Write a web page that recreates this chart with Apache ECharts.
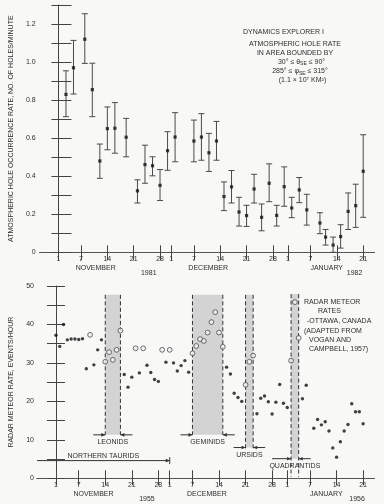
<!DOCTYPE html>
<html><head><meta charset="utf-8">
<script src="https://cdn.jsdelivr.net/npm/echarts@6/dist/echarts.min.js"></script>
<style>html,body{margin:0;padding:0;background:#f8f8f7}#c{width:384px;height:504px}</style>
</head><body><div id="c"></div>
<script>
// ---------- data (days counted from 1 November) ----------
const dayTicks = [0, 6, 13, 20, 27, 30, 36, 43, 50, 57, 61, 67, 74, 81];
const dayTickLabels = ['1','7','14','21','28','1','7','14','21','28','1','7','14','21'];
const monthPos = [9.9, 39.8, 71.3];
const monthNames = ['NOVEMBER', 'DECEMBER', 'JANUARY'];
const yearPosTop = [24, 78.7];
const yearLabelsTop = ['1981', '1982'];
const yearPosBottom = [24, 79.4];
const yearLabelsBottom = ['1955', '1956'];

// Dynamics Explorer I atmospheric hole rate (holes/minute)
const holeDays = [2, 4, 7, 9, 11, 13, 15, 18, 21, 23, 25, 27, 29, 31, 36, 38, 40, 42, 44, 46, 48, 50, 52, 54, 56, 58, 60, 62, 64, 66, 69.5, 71, 73, 75, 77, 79, 81];
const holeRate = [0.83, 0.97, 1.12, 0.855, 0.48, 0.65, 0.652, 0.605, 0.323, 0.461, 0.455, 0.352, 0.534, 0.606, 0.585, 0.606, 0.523, 0.585, 0.293, 0.344, 0.212, 0.193, 0.333, 0.184, 0.363, 0.194, 0.345, 0.233, 0.328, 0.223, 0.154, 0.080, 0.038, 0.083, 0.215, 0.245, 0.426];
const holeLow  = [0.713, 0.832, 0.993, 0.713, 0.389, 0.539, 0.521, 0.502, 0.259, 0.363, 0.402, 0.272, 0.431, 0.476, 0.476, 0.484, 0.425, 0.484, 0.219, 0.259, 0.138, 0.136, 0.259, 0.113, 0.266, 0.138, 0.242, 0.182, 0.261, 0.143, 0.098, 0.038, 0.0, 0.022, 0.120, 0.131, 0.184];
const holeHigh = [0.954, 1.114, 1.254, 0.994, 0.569, 0.764, 0.787, 0.704, 0.381, 0.563, 0.502, 0.435, 0.634, 0.734, 0.695, 0.729, 0.625, 0.688, 0.370, 0.430, 0.289, 0.247, 0.410, 0.254, 0.465, 0.247, 0.449, 0.289, 0.393, 0.305, 0.208, 0.120, 0.080, 0.145, 0.312, 0.358, 0.618];

// Radar meteor rates, Ottawa 1955-56 (events/hour)
const meteorDays = [0, 1, 2, 3, 4, 5, 6, 7, 8, 10, 11, 12, 18, 19, 20, 22, 24, 25, 26, 27, 29, 31, 32, 33, 34, 35, 45, 46, 47, 48, 49, 53, 54, 55, 56, 57, 58, 59, 60, 61, 65, 66, 68, 69, 70, 71, 72, 73, 74, 75, 76, 77, 78, 79, 80, 81];
const meteorRate = [37.2, 34.3, 40.0, 36.0, 36.2, 36.2, 36.1, 36.3, 28.5, 29.5, 33.4, 36.0, 27.0, 23.7, 26.3, 27.4, 29.4, 27.5, 25.7, 25.2, 30.2, 30.0, 27.9, 29.3, 30.6, 27.6, 28.9, 27.1, 22.1, 21.0, 20.0, 16.8, 20.8, 21.4, 19.9, 16.7, 19.8, 24.4, 19.5, 18.4, 20.7, 24.2, 13.0, 15.3, 13.9, 14.7, 12.3, 7.9, 5.5, 9.5, 12.3, 14.0, 19.4, 17.3, 17.3, 14.2];
const showerDays = [9, 13, 14, 15, 16, 17, 21, 23, 28, 30, 36, 37, 38, 39, 40, 41, 42, 43, 44, 50, 51, 52, 62, 63, 64];
const showerRate = [37.3, 30.3, 32.8, 30.8, 33.4, 38.4, 33.8, 33.8, 33.4, 33.4, 32.5, 34.4, 36.2, 35.7, 37.9, 40.6, 43.2, 37.9, 34.2, 24.3, 30.3, 31.9, 30.6, 45.8, 36.5];

// meteor showers
const showerNames = ['LEONIDS', 'GEMINIDS', 'URSIDS', 'QUADRANTIDS'];
const showerStart = [13, 36, 50, 62];
const showerEnd   = [17, 44, 52, 64];
const showerFloor = [11.3, 11.3, 8.0, 5.1];
const showerTop   = [47.7, 47.7, 47.7, 47.9];
const showerDashEnd = [11.3, 11.3, 7.5, 0.4];
const tauridName = 'NORTHERN TAURIDS';
const tauridStart = -5, tauridEnd = 30, tauridLevel = 4.6;

// ---------- chart ----------
const FONT = '"Liberation Sans", Arial, sans-serif';
const INK = '#2e2e2e';
const chart = echarts.init(document.getElementById('c'), null, {renderer: 'canvas'});

function nearestLabel(v, pos, labels) {
  let bi = 0, bd = Infinity;
  pos.forEach((p, i) => { const d = Math.abs(p - v); if (d < bd) { bd = d; bi = i; } });
  return labels[bi];
}
function xAxesFor(g, yearPos, yearLabels, tickLen, topTickLen) {
  const base = {type: 'value', gridIndex: g, min: -5, max: 84, splitLine: {show: false}};
  return [
    Object.assign({}, base, {
      position: 'bottom',
      axisLine: {lineStyle: {color: '#444', width: 1}},
      axisTick: {customValues: dayTicks, inside: true, length: tickLen, lineStyle: {color: '#444'}},
      axisLabel: {customValues: dayTicks, formatter: v => nearestLabel(v, dayTicks, dayTickLabels),
        margin: 3, fontSize: 7, color: INK, fontFamily: FONT}
    }),
    Object.assign({}, base, {
      position: 'top',
      axisLine: {lineStyle: {color: '#555', width: 1}},
      axisTick: {customValues: dayTicks, inside: true, length: topTickLen, lineStyle: {color: '#444'}},
      axisLabel: {show: false}
    }),
    Object.assign({}, base, {
      position: 'bottom',
      axisLine: {show: false}, axisTick: {show: false},
      axisLabel: {customValues: monthPos, formatter: v => nearestLabel(v, monthPos, monthNames),
        margin: 12.5, fontSize: 7, color: INK, fontFamily: FONT}
    }),
    Object.assign({}, base, {
      position: 'bottom',
      axisLine: {show: false}, axisTick: {show: false},
      axisLabel: {customValues: yearPos, formatter: v => nearestLabel(v, yearPos, yearLabels),
        margin: 17, fontSize: 7, color: INK, fontFamily: FONT}
    })
  ];
}

const errorBarSeries = {
  type: 'custom', xAxisIndex: 0, yAxisIndex: 0, clip: false,
  data: holeDays.map((d, i) => [d, holeLow[i], holeHigh[i]]),
  renderItem(params, api) {
    const hi = api.coord([api.value(0), api.value(2)]);
    const lo = api.coord([api.value(0), api.value(1)]);
    const w = 3, st = {stroke: '#4a4a4a', lineWidth: 1};
    return {type: 'group', children: [
      {type: 'line', shape: {x1: hi[0], y1: hi[1], x2: lo[0], y2: lo[1]}, style: st},
      {type: 'line', shape: {x1: hi[0] - w, y1: hi[1], x2: hi[0] + w, y2: hi[1]}, style: st},
      {type: 'line', shape: {x1: lo[0] - w, y1: lo[1], x2: lo[0] + w, y2: lo[1]}, style: st}
    ]};
  }
};

const bandSeries = {
  type: 'custom', xAxisIndex: 4, yAxisIndex: 2, clip: false, z: 1,
  data: showerNames.map((n, i) => [showerStart[i], showerEnd[i], showerFloor[i], showerTop[i], showerDashEnd[i]]),
  renderItem(params, api) {
    const i = params.dataIndex;
    const a = api.coord([api.value(0), api.value(3)]);
    const b = api.coord([api.value(1), api.value(2)]);
    const c = api.coord([api.value(0), api.value(4)]);
    const x0 = a[0], x1 = b[0], yT = a[1], yF = b[1], yD = c[1];
    const L = i === 3 ? 19 : 12;
    const dash = {stroke: '#333', lineWidth: 1, lineDash: [4, 2.5]};
    const solid = {stroke: '#333', lineWidth: 1};
    return {type: 'group', children: [
      {type: 'rect', shape: {x: x0, y: yT, width: x1 - x0, height: yF - yT}, style: {fill: '#d3d3d3'}},
      {type: 'line', shape: {x1: x0, y1: yT, x2: x0, y2: yD}, style: dash},
      {type: 'line', shape: {x1: x1, y1: yT, x2: x1, y2: yD}, style: dash},
      {type: 'line', shape: {x1: x0 - L, y1: yF, x2: x0, y2: yF}, style: solid},
      {type: 'polygon', shape: {points: [[x0, yF], [x0 - 4, yF - 1.8], [x0 - 4, yF + 1.8]]}, style: {fill: '#333'}},
      {type: 'line', shape: {x1: x1, y1: yF, x2: x1 + 12, y2: yF}, style: solid},
      {type: 'polygon', shape: {points: [[x1, yF], [x1 + 4, yF - 1.8], [x1 + 4, yF + 1.8]]}, style: {fill: '#333'}},
      {type: 'text', style: {text: showerNames[i], x: (x0 + x1) / 2, y: yF + 4, align: 'center', verticalAlign: 'top',
        fill: INK, font: '7px ' + FONT}}
    ]};
  }
};

const tauridSeries = {
  type: 'custom', xAxisIndex: 4, yAxisIndex: 2, clip: false, z: 2,
  data: [[tauridStart, tauridEnd, tauridLevel]],
  renderItem(params, api) {
    const a = api.coord([api.value(0), api.value(2)]);
    const b = api.coord([api.value(1), api.value(2)]);
    const st = {stroke: '#333', lineWidth: 1};
    return {type: 'group', children: [
      {type: 'line', shape: {x1: a[0], y1: a[1], x2: b[0], y2: b[1]}, style: st},
      {type: 'polygon', shape: {points: [[b[0], b[1]], [b[0] - 4, b[1] - 1.8], [b[0] - 4, b[1] + 1.8]]}, style: {fill: '#333'}},
      {type: 'line', shape: {x1: b[0], y1: b[1] - 3.5, x2: b[0], y2: b[1] + 3.5}, style: st},
      {type: 'text', style: {text: tauridName, x: (a[0] + b[0]) / 2, y: a[1] - 1.5, align: 'center', verticalAlign: 'bottom',
        fill: INK, font: '7px ' + FONT}}
    ]};
  }
};

function txt(x, y, text, align, rich) {
  const s = {text, x, y, align: align || 'center', verticalAlign: 'middle', fill: INK, font: '7px ' + FONT};
  if (rich) s.rich = rich;
  return {type: 'text', silent: true, style: s};
}
const subRich = {
  n: {fontSize: 7, fontFamily: FONT, color: INK, lineHeight: 9, verticalAlign: 'middle'},
  s: {fontSize: 5, fontFamily: FONT, color: INK, lineHeight: 9, verticalAlign: 'bottom'}
};

const option = {
  animation: false,
  backgroundColor: '#f8f8f7',
  grid: [
    {left: 31.5, right: 9.5, top: 5, height: 247.3},
    {left: 31.5, right: 9.5, top: 286, height: 192.3}
  ],
  xAxis: [].concat(
    xAxesFor(0, yearPosTop, yearLabelsTop, 7, 8),
    xAxesFor(1, yearPosBottom, yearLabelsBottom, 8, 7)
  ),
  yAxis: [
    {type: 'value', gridIndex: 0, min: 0, max: 1.3, interval: 0.1, position: 'left',
     axisLine: {show: true, lineStyle: {color: '#444'}},
     axisTick: {inside: true, length: 13, lineStyle: {color: '#444'}},
     axisLabel: {margin: 4, fontSize: 7, color: INK, fontFamily: FONT,
       formatter: v => { const k = Math.round(v * 10); return k % 2 ? '' : (k === 0 ? '0' : (k / 10).toFixed(1)); }},
     splitLine: {show: false},
     name: 'ATMOSPHERIC HOLE OCCURRENCE RATE, NO. OF HOLES/MINUTE', nameLocation: 'middle', nameGap: 18,
     nameTextStyle: {fontSize: 7, color: INK, fontFamily: FONT}},
    {type: 'value', gridIndex: 0, min: 0, max: 1.3, interval: 0.1, position: 'right',
     axisLine: {show: false}, axisTick: {inside: true, length: 7, lineStyle: {color: '#444'}},
     axisLabel: {show: false}, splitLine: {show: false}},
    {type: 'value', gridIndex: 1, min: 0, max: 50, interval: 5, position: 'left',
     axisLine: {show: true, lineStyle: {color: '#444'}},
     axisTick: {inside: true, length: 9, lineStyle: {color: '#444'}},
     axisLabel: {margin: 3, fontSize: 7, color: INK, fontFamily: FONT,
       formatter: v => (Math.round(v) % 10 === 0 ? String(Math.round(v)) : '')},
     splitLine: {show: false},
     name: 'RADAR METEOR RATE, EVENTS/HOUR', nameLocation: 'middle', nameGap: 22,
     nameTextStyle: {fontSize: 7, color: INK, fontFamily: FONT}},
    {type: 'value', gridIndex: 1, min: 0, max: 50, interval: 5, position: 'right',
     axisLine: {show: false}, axisTick: {inside: true, length: 9, lineStyle: {color: '#444'}},
     axisLabel: {show: false}, splitLine: {show: false}}
  ],
  series: [
    errorBarSeries,
    {type: 'scatter', xAxisIndex: 0, yAxisIndex: 0, symbol: 'rect', symbolSize: 3.2, z: 3,
     itemStyle: {color: '#111'}, data: holeDays.map((d, i) => [d, holeRate[i]])},
    bandSeries,
    tauridSeries,
    {type: 'scatter', xAxisIndex: 4, yAxisIndex: 2, symbol: 'circle', symbolSize: 3.4, z: 3,
     itemStyle: {color: '#111'}, data: meteorDays.map((d, i) => [d, meteorRate[i]])},
    {type: 'scatter', xAxisIndex: 4, yAxisIndex: 2, symbol: 'circle', symbolSize: 4.8, z: 3,
     itemStyle: {color: '#f2f2f2', borderColor: '#4a4a4a', borderWidth: 1}, data: showerDays.map((d, i) => [d, showerRate[i]])}
  ],
  graphic: [
    txt(283.5, 32.5, 'DYNAMICS EXPLORER I'),
    txt(295, 44.5, 'ATMOSPHERIC HOLE RATE'),
    txt(295, 53, 'IN AREA BOUNDED BY'),
    txt(301.5, 62, '{n|30° ≤ θ}{s|SE}{n| ≤ 90°}', 'center', subRich),
    txt(300, 71.5, '{n|285° ≤ φ}{s|SE}{n| ≤ 315°}', 'center', subRich),
    txt(302.5, 80.5, '(1.1 × 10⁷ KM²)'),
    txt(304, 302.5, 'RADAR METEOR', 'left'),
    txt(318, 311.5, 'RATES', 'left'),
    txt(307, 321, '-OTTAWA, CANADA', 'left'),
    txt(304, 331, '(ADAPTED FROM', 'left'),
    txt(309, 340.5, 'VOGAN AND', 'left'),
    txt(309, 349.5, 'CAMPBELL, 1957)', 'left')
  ]
};
chart.setOption(option);
</script>
</body></html>
